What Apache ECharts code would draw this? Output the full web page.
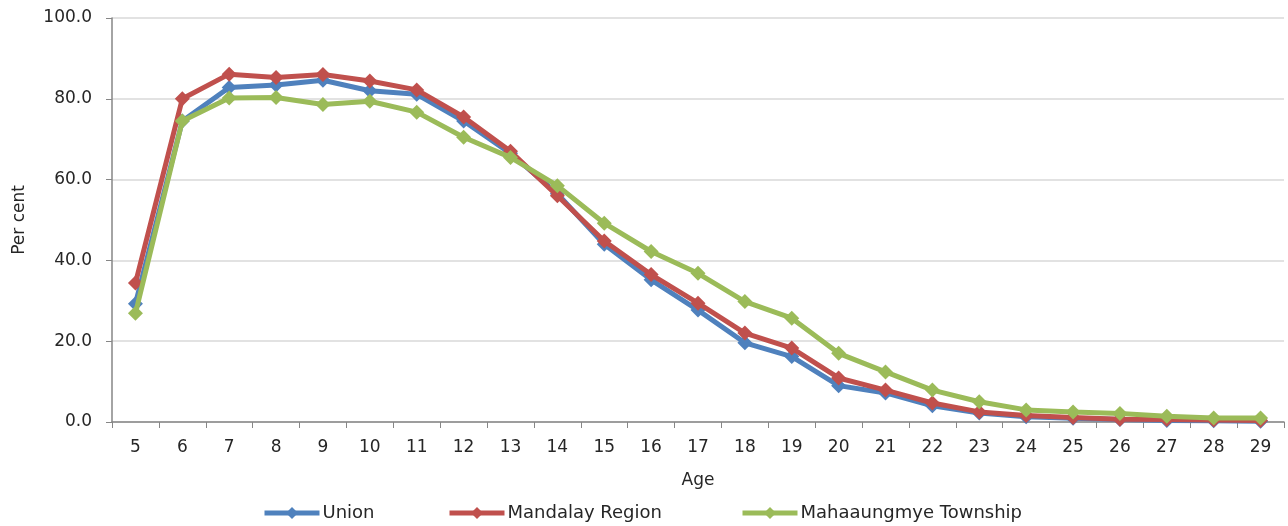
<!DOCTYPE html>
<html>
<head>
<meta charset="utf-8">
<script src="https://cdn.jsdelivr.net/npm/echarts@6/dist/echarts.min.js"></script>
<style>
html,body{margin:0;padding:0;background:#fff;}
#chart{width:1288px;height:526px;}
</style>
</head>
<body>
<div id="chart"></div>
<script>
const ages = ['5','6','7','8','9','10','11','12','13','14','15','16','17','18','19','20','21','22','23','24','25','26','27','28','29'];
const union = [29.3,74.5,82.8,83.4,84.6,82.0,81.1,74.5,66.5,56.5,44.0,35.2,27.7,19.6,16.2,9.0,7.2,4.0,2.2,1.3,0.9,0.6,0.4,0.3,0.2];
const mandalay = [34.4,80.0,86.1,85.3,86.0,84.4,82.2,75.5,67.0,56.0,44.8,36.5,29.4,22.0,18.3,10.9,7.9,4.7,2.5,1.6,1.1,0.7,0.6,0.5,0.4];
const mahaaungmye = [26.9,74.5,80.2,80.3,78.6,79.4,76.7,70.5,65.5,58.5,49.2,42.2,36.8,29.8,25.7,17.0,12.4,7.9,5.0,3.0,2.5,2.1,1.4,1.0,1.0];
const seriesNames = ['Union','Mandalay Region','Mahaaungmye Township'];
const seriesColors = ['#4F81BD','#C0504D','#9BBB59'];
const yTicks = [0,20,40,60,80,100];

const FONT = 'DejaVu Sans';
const chart = echarts.init(document.getElementById('chart'));
const dataSets = [union, mandalay, mahaaungmye];
const legendLefts = [262, 447, 740];

chart.setOption({
  animation: false,
  backgroundColor: '#fff',
  textStyle: { fontFamily: FONT },
  grid: { left: 112, right: 4, top: 18, bottom: 104, containLabel: false },
  legend: seriesNames.map((n, i) => ({
    data: [n],
    left: legendLefts[i],
    top: 504,
    padding: 0,
    itemWidth: 55,
    itemHeight: 15,
    itemGap: 4,
    lineStyle: { width: 5 },
    textStyle: { fontFamily: FONT, fontSize: 18, color: '#262626', padding: [0, 0, 0, -2] }
  })),
  xAxis: {
    type: 'category',
    data: ages,
    boundaryGap: true,
    name: 'Age',
    nameLocation: 'middle',
    nameGap: 50,
    nameTextStyle: { fontFamily: FONT, fontSize: 17, color: '#262626' },
    axisLine: { lineStyle: { color: '#868686', width: 1.5 } },
    axisTick: { show: true, alignWithLabel: false, length: 6, lineStyle: { color: '#868686' } },
    axisLabel: { fontFamily: FONT, fontSize: 17, color: '#262626', margin: 17 },
    splitLine: { show: false }
  },
  yAxis: {
    type: 'value',
    min: 0,
    max: 100,
    interval: 20,
    name: 'Per cent',
    nameLocation: 'middle',
    nameGap: 84,
    nameRotate: 90,
    nameTextStyle: { fontFamily: FONT, fontSize: 17, color: '#262626' },
    axisLine: { show: true, lineStyle: { color: '#868686', width: 1.5 } },
    axisTick: { show: true, length: 6, lineStyle: { color: '#868686' } },
    axisLabel: { fontFamily: FONT, fontSize: 17, color: '#262626', margin: 20,
      formatter: v => yTicks.includes(v) ? v.toFixed(1) : '' },
    splitLine: { show: true, lineStyle: { color: '#D9D9D9', width: 1.5 } }
  },
  series: seriesNames.map((n, i) => ({
    name: n,
    type: 'line',
    data: dataSets[i],
    symbol: 'diamond',
    symbolSize: 15,
    showSymbol: true,
    lineStyle: { width: 5, color: seriesColors[i] },
    itemStyle: { color: seriesColors[i] },
    z: 2 + i
  }))
});
</script>
</body>
</html>
